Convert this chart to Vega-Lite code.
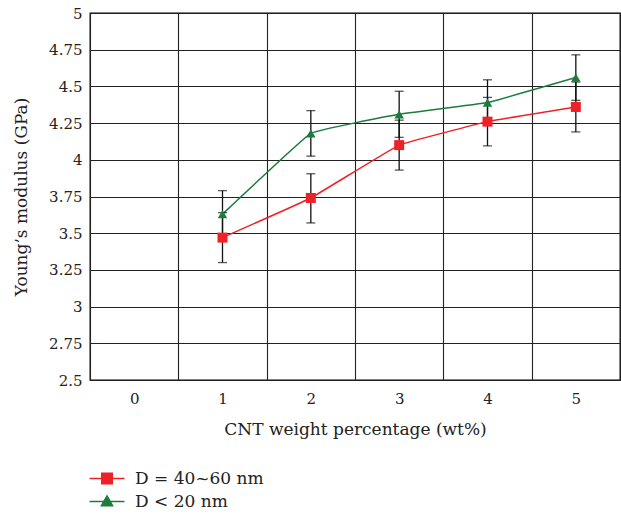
{
  "$schema": "https://vega.github.io/schema/vega-lite/v6.json",
  "width": 530,
  "height": 367,
  "autosize": {"type": "none"},
  "padding": {"left": 90, "top": 13, "right": 1, "bottom": 136},
  "config": {
    "view": {"stroke": "#000", "strokeWidth": 1.3},
    "font": "DejaVu Serif",
    "axis": {
      "domain": false,
      "ticks": false,
      "tickSize": 0,
      "grid": true,
      "gridColor": "#222",
      "gridWidth": 1.1,
      "gridOpacity": 1,
      "labelFont": "DejaVu Serif",
      "labelFontSize": 15,
      "labelColor": "#222",
      "labelOverlap": false,
      "titleFont": "DejaVu Serif",
      "titleFontSize": 17,
      "titleFontWeight": "normal",
      "titleColor": "#222"
    }
  },
  "data": {
    "values": [
      {"x": 1, "series": "D = 40~60 nm", "y": 3.47, "lo": 3.30, "hi": 3.64},
      {"x": 2, "series": "D = 40~60 nm", "y": 3.74, "lo": 3.57, "hi": 3.905},
      {"x": 3, "series": "D = 40~60 nm", "y": 4.10, "lo": 3.93, "hi": 4.27},
      {"x": 4, "series": "D = 40~60 nm", "y": 4.26, "lo": 4.095, "hi": 4.425},
      {"x": 5, "series": "D = 40~60 nm", "y": 4.36, "lo": 4.19, "hi": 4.53},
      {"x": 1, "series": "D < 20 nm", "y": 3.63, "lo": 3.47, "hi": 3.79},
      {"x": 2, "series": "D < 20 nm", "y": 4.18, "lo": 4.025, "hi": 4.335},
      {"x": 3, "series": "D < 20 nm", "y": 4.31, "lo": 4.153, "hi": 4.467},
      {"x": 4, "series": "D < 20 nm", "y": 4.39, "lo": 4.235, "hi": 4.545},
      {"x": 5, "series": "D < 20 nm", "y": 4.56, "lo": 4.405, "hi": 4.715}
    ]
  },
  "encoding": {
    "x": {
      "field": "x",
      "type": "ordinal",
      "scale": {"type": "band", "domain": [0, 1, 2, 3, 4, 5], "paddingInner": 0, "paddingOuter": 0},
      "axis": {
        "title": "CNT weight percentage (wt%)",
        "labelAngle": 0,
        "tickBand": "extent",
        "labelPadding": 11,
        "titlePadding": 15
      }
    }
  },
  "layer": [
    {
      "mark": {"type": "line", "interpolate": "cardinal", "tension": 0.78, "strokeWidth": 1.5},
      "encoding": {
        "y": {
          "field": "y",
          "type": "quantitative",
          "scale": {"domain": [2.5, 5], "nice": false, "zero": false},
          "axis": {
            "title": "Young’s modulus (GPa)",
            "values": [2.5, 2.75, 3, 3.25, 3.5, 3.75, 4, 4.25, 4.5, 4.75, 5],
            "format": ".2~f",
            "labelPadding": 8,
            "titlePadding": 18
          }
        },
        "color": {
          "field": "series",
          "type": "nominal",
          "scale": {"domain": ["D = 40~60 nm", "D < 20 nm"], "range": ["#ee2128", "#1b7c3d"]},
          "legend": {
            "title": null,
            "orient": "none",
            "legendX": 8.5,
            "legendY": 457,
            "padding": 0,
            "symbolSize": 196,
            "symbolStrokeWidth": 1.5,
            "labelOffset": 19.5,
            "labelFont": "DejaVu Serif",
            "labelFontSize": 17,
            "labelColor": "#222",
            "rowPadding": 5,
            "encode": {
              "symbols": {
                "update": {
                  "shape": {"signal": "datum.value === 'D = 40~60 nm' ? 'M-2.5,0H2.5M-0.75,-0.75H0.75V0.75H-0.75Z' : 'M-2.5,0H2.5M0,-0.8L0.8,0.6H-0.8Z'"},
                  "fill": {"scale": "color", "field": "value"},
                  "stroke": {"scale": "color", "field": "value"}
                }
              }
            }
          }
        }
      }
    },
    {
      "mark": {"type": "rule", "color": "#111", "strokeWidth": 1.3},
      "encoding": {
        "y": {
          "field": "lo",
          "type": "quantitative",
          "axis": {
            "title": "Young’s modulus (GPa)",
            "values": [2.5, 2.75, 3, 3.25, 3.5, 3.75, 4, 4.25, 4.5, 4.75, 5],
            "format": ".2~f",
            "labelPadding": 8,
            "titlePadding": 18
          }
        },
        "y2": {"field": "hi"}
      }
    },
    {
      "mark": {"type": "tick", "color": "#111", "size": 9, "thickness": 1.3},
      "encoding": {
        "y": {
          "field": "lo",
          "type": "quantitative",
          "axis": {
            "title": "Young’s modulus (GPa)",
            "values": [2.5, 2.75, 3, 3.25, 3.5, 3.75, 4, 4.25, 4.5, 4.75, 5],
            "format": ".2~f",
            "labelPadding": 8,
            "titlePadding": 18
          }
        }
      }
    },
    {
      "mark": {"type": "tick", "color": "#111", "size": 9, "thickness": 1.3},
      "encoding": {
        "y": {
          "field": "hi",
          "type": "quantitative",
          "axis": {
            "title": "Young’s modulus (GPa)",
            "values": [2.5, 2.75, 3, 3.25, 3.5, 3.75, 4, 4.25, 4.5, 4.75, 5],
            "format": ".2~f",
            "labelPadding": 8,
            "titlePadding": 18
          }
        }
      }
    },
    {
      "transform": [{"filter": "datum.series === 'D = 40~60 nm'"}],
      "mark": {"type": "point", "filled": true, "opacity": 1, "size": 100, "shape": "square"},
      "encoding": {
        "y": {
          "field": "y",
          "type": "quantitative",
          "axis": {
            "title": "Young’s modulus (GPa)",
            "values": [2.5, 2.75, 3, 3.25, 3.5, 3.75, 4, 4.25, 4.5, 4.75, 5],
            "format": ".2~f",
            "labelPadding": 8,
            "titlePadding": 18
          }
        },
        "color": {"field": "series", "type": "nominal"}
      }
    },
    {
      "transform": [{"filter": "datum.series === 'D < 20 nm'"}],
      "mark": {"type": "point", "filled": true, "opacity": 1, "size": 90, "shape": "triangle-up"},
      "encoding": {
        "y": {
          "field": "y",
          "type": "quantitative",
          "axis": {
            "title": "Young’s modulus (GPa)",
            "values": [2.5, 2.75, 3, 3.25, 3.5, 3.75, 4, 4.25, 4.5, 4.75, 5],
            "format": ".2~f",
            "labelPadding": 8,
            "titlePadding": 18
          }
        },
        "color": {"field": "series", "type": "nominal"}
      }
    }
  ]
}
